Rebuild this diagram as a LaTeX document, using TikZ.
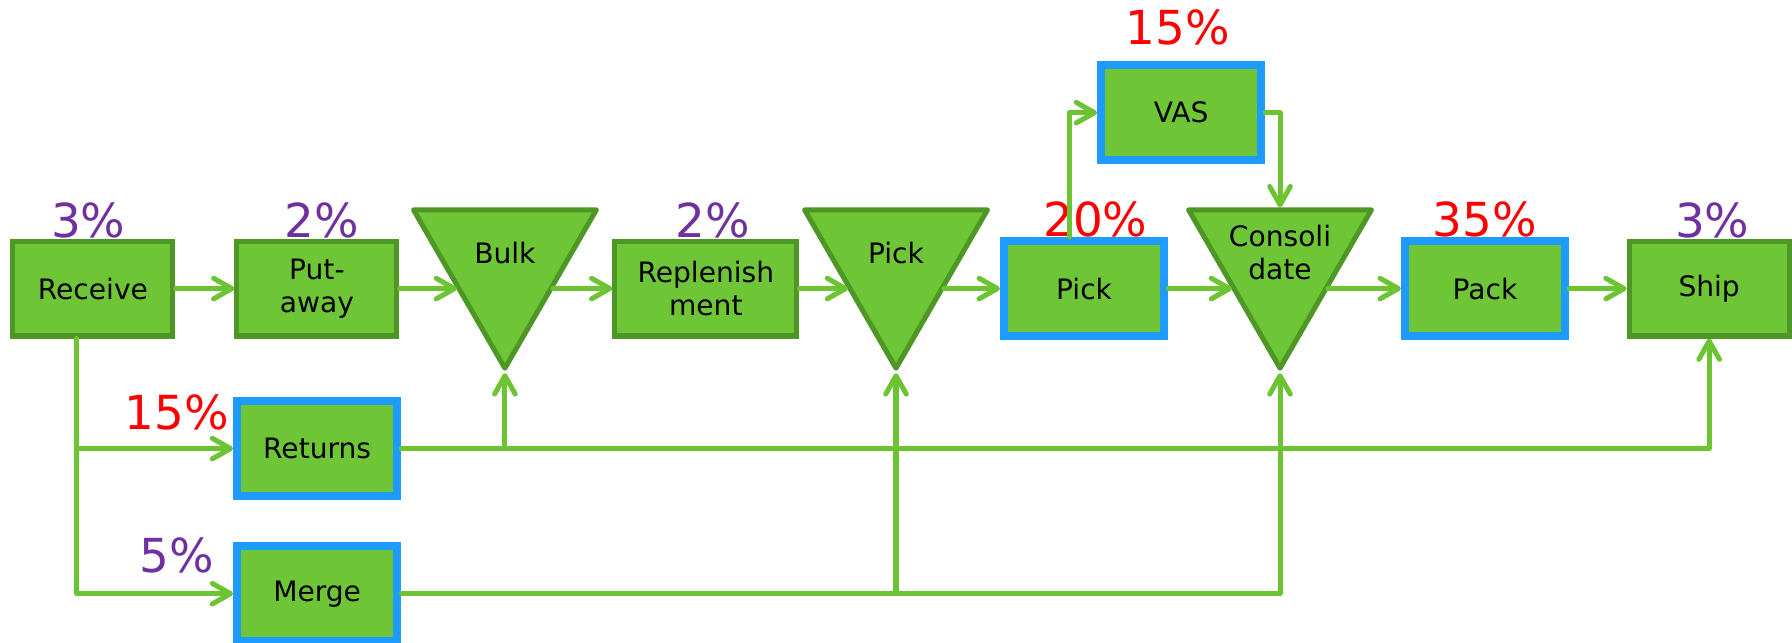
\documentclass[tikz,border=0pt]{standalone}
\usepackage{fontspec}
\setmainfont{DejaVu Sans}
\usepackage{xcolor}
\usepackage{tikz}
\usetikzlibrary{arrows.meta}
\usetikzlibrary{shapes.geometric}
\usetikzlibrary{positioning}

\definecolor{stepgreen}{HTML}{6EC535}
\definecolor{stepedge}{HTML}{4E9626}
\definecolor{flowgreen}{HTML}{6CC432}
\definecolor{hotblue}{HTML}{1E9BFF}
\definecolor{pctpurple}{HTML}{7030A0}
\definecolor{pctred}{HTML}{FF0000}

\begin{document}
\begin{tikzpicture}[x=0.5pt, y=-0.5pt, font=\fontsize{12.3}{14.5}\selectfont,
    box/.style={draw=stepedge, line width=2.2pt, fill=stepgreen, minimum width=70pt,
      minimum height=41.5pt, inner sep=0pt, align=center},
    hotbox/.style={box, draw=hotblue, line width=3.6pt},
    tri/.style={draw=stepedge, line width=2.2pt, fill=stepgreen, line join=round,
      regular polygon, regular polygon sides=3, shape border rotate=180,
      minimum size=92.4pt, inner sep=0pt},
    flow/.style={draw=flowgreen, line width=2.2pt, line cap=round, line join=round},
    arr/.style={flow, -{Straight Barb[length=8pt, width=9pt, round]}},
    pct/.style={font=\fontsize{20.5}{24}\selectfont, inner sep=0pt, outer sep=0pt}]
    \useasboundingbox (0,0) rectangle (1568,562);

    % main line
    \node[box] (receive) at (81.3,252.5) {Receive};
    \node[box] (putaway) at (277.3,252.5) {Put-\\away};
    \node[tri] (bulk) at (441.8,229.8) {};
    \node (bulktxt) at ([yshift=4.4pt]bulk.center) {Bulk};
    \node[box, minimum width=79.6pt] (replen) at (617.6,252.5) {Replenish\\ment};
    \node[tri] (picktri) at (784,229.8) {};
    \node (picktxt) at ([yshift=4.4pt]picktri.center) {Pick};
    \node[hotbox] (pick) at (948.5,252.5) {Pick};
    \node[hotbox] (vas) at (1033.5,98.6) {VAS};
    \node[tri] (consol) at (1120,229.8) {};
    \node[align=center] (consoltxt) at ([yshift=4.4pt]consol.center) {Consoli\\date};
    \node[hotbox] (pack) at (1299.3,252.5) {Pack};
    \node[box] (ship) at (1495.5,252.5) {Ship};
    \node[hotbox] (returns) at (277.5,392.5) {Returns};
    \node[hotbox] (merge) at (277.5,519.5) {Merge};

    % shares
    \node[pct, text=pctpurple, above=0pt of receive, xshift=-2pt] (receivepct) {3\%};
    \node[pct, text=pctpurple, above=0pt of putaway, xshift=2pt] (putawaypct) {2\%};
    \node[pct, text=pctpurple, above=0pt of replen, xshift=3.2pt] (replenpct) {2\%};
    \node[pct, text=pctred, above=0pt of pick, xshift=5pt] (pickpct) {20\%};
    \node[pct, text=pctred, above=7pt of vas, xshift=-1.5pt] (vaspct) {15\%};
    \node[pct, text=pctred, above=0pt of pack] (packpct) {35\%};
    \node[pct, text=pctpurple, above=0pt of ship, xshift=1.4pt] (shippct) {3\%};
    \node[pct, text=pctred, anchor=south] (returnspct) at ([xshift=-24.5pt, yshift=8.2pt]returns.west) {15\%};
    \node[pct, text=pctpurple, anchor=south] (mergepct) at ([xshift=-24.5pt, yshift=9pt]merge.west) {5\%};

    \draw[arr] (receive) -- (putaway);
    \draw[arr] (putaway) -- (putaway -| bulk.side 3);
    \draw[arr] (replen -| bulk.side 1) -- (replen);
    \draw[arr] (replen) -- (replen -| picktri.side 3);
    \draw[arr] (pick -| picktri.side 1) -- (pick);
    \draw[arr] (pick) -- (pick -| consol.side 3);
    \draw[arr] (pack -| consol.side 1) -- (pack);
    \draw[arr] (pack) -- (ship);
    \draw[arr] ([xshift=-6.5pt]pick.north) |- (vas);
    \draw[arr] (vas) -| (consol.side 2);

    \coordinate (split) at ([xshift=-7.15pt]receive.south);
    \draw[arr] (split) |- (merge);
    \draw[arr] (split |- returns) -- (returns);
    \draw[arr] (returns) -| (ship);
    \draw[arr] (returns -| bulk.corner 1) -- (bulk.corner 1);
    \draw[arr] (merge) -| (consol.corner 1);
    \draw[arr] (merge -| picktri.corner 1) -- (picktri.corner 1);
  \end{tikzpicture}
\end{document}
